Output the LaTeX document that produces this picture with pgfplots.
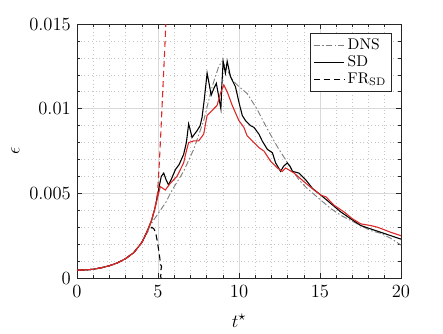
\documentclass[border=0pt]{standalone}
\usepackage{pgfplots}
\pgfplotsset{compat=1.18}
\definecolor{myred}{RGB}{220,40,40}
\definecolor{axgray}{RGB}{38,38,38}
\begin{document}
\begin{tikzpicture}
\useasboundingbox (-49.7pt,-35.5pt) rectangle (236.1pt,179.4pt);
\begin{axis}[
  scale only axis,
  width=209pt, height=163.9pt,
  xmin=0, xmax=20, ymin=0, ymax=0.015,
  xtick={0,5,10,15,20},
  ytick={0,0.005,0.01,0.015},
  yticklabels={0,0.005,0.01,0.015},
  scaled y ticks=false,
  minor x tick num=4, minor y tick num=4,
  grid=both,
  major grid style={line width=0.4pt, draw=black!15},
  minor grid style={line width=0.4pt, draw=black!22, dash pattern=on 0.6pt off 1.8pt},
  tick align=inside,
  tick pos=both,
  major tick length=3pt, minor tick length=1.8pt,
  every tick/.style={axgray, line width=0.4pt},
  axis line style={axgray, line width=0.5pt},
  tick label style={font=\fontsize{12}{14}\selectfont},
  xticklabel style={yshift=-1pt},
  yticklabel style={xshift=-0.5pt},
  xlabel={$t^{\star}$}, ylabel={$\epsilon$},
  label style={font=\fontsize{13}{15}\selectfont},
  xlabel style={yshift=-4pt},
  ylabel style={yshift=-0.5pt},
  legend style={at={(rel axis cs:0.972,0.965)}, anchor=north east,
    draw=axgray, line width=0.4pt, font=\fontsize{10}{12}\selectfont,
    inner sep=1.5pt, row sep=-1.5pt, cells={anchor=west}},
  legend cell align=left,
  legend image post style={xscale=1.15},
]
\addplot[black!50, line width=0.6pt, dash pattern=on 4pt off 1.5pt on 1pt off 1.5pt] coordinates {
(0,0.00047)(0.5,0.00048)(1,0.00052)(1.5,0.00061)(2,0.00073)(2.5,0.0009)(3,0.00115)(3.5,0.0015)(4,0.0021)(4.3,0.0026)
(4.5,0.0031)(5.0,0.0038)(5.5,0.0045)(5.76,0.0050)(6.0,0.0054)(6.58,0.0063)(7.2,0.0076)(7.82,0.0093)(8.34,0.0113)
(8.75,0.0125)(8.96,0.0128)(9.27,0.0123)(9.58,0.0117)(10.0,0.0113)(10.5,0.0109)(11.1,0.0100)(11.75,0.0088)(12.4,0.0077)
(13.2,0.0065)(13.7,0.0058)(14.2,0.0053)(15.05,0.0046)(15.67,0.0041)(16.29,0.0037)(16.9,0.0034)(17.5,0.0031)(18.14,0.0028)
(18.76,0.00264)(19.38,0.00234)(20,0.00195)};
\addlegendentry{DNS}
\addplot[black, line width=0.7pt] coordinates {
(0,0.00047)(0.5,0.00048)(1,0.00052)(1.5,0.00061)(2,0.00073)(2.5,0.0009)(3,0.00115)(3.5,0.0015)(4,0.0021)(4.3,0.0027)(4.6,0.0034)
(4.83,0.0042)(5.05,0.0053)(5.2,0.0060)(5.35,0.0062)(5.5,0.0058)(5.65,0.0055)(5.85,0.0059)(6.07,0.0064)(6.3,0.0067)(6.58,0.0073)
(6.75,0.0080)(6.89,0.0091)(7.0,0.0087)(7.1,0.0083)(7.25,0.0085)(7.41,0.0087)(7.6,0.0090)(7.72,0.0095)(7.85,0.0105)(8.03,0.0121)
(8.15,0.0115)(8.28,0.0108)(8.45,0.0112)(8.6,0.0115)(8.75,0.0107)(8.88,0.0100)(8.93,0.0112)(9.02,0.0128)(9.16,0.0121)(9.27,0.0128)
(9.47,0.0119)(9.78,0.0113)(9.99,0.0104)(10.2,0.0096)(10.4,0.0093)(10.71,0.0090)(10.92,0.0089)(11.23,0.0085)(11.43,0.0081)
(11.75,0.0076)(12.06,0.0074)(12.26,0.0068)(12.57,0.0063)(12.75,0.0066)(12.98,0.0068)(13.15,0.0066)(13.3,0.0063)(13.7,0.0062)
(14.12,0.0058)(14.53,0.0053)(15.05,0.0049)(15.67,0.0044)(16.29,0.0039)(16.9,0.0035)(17.52,0.0031)(18.14,0.0029)(18.76,0.0027)
(19.38,0.0025)(20,0.0023)};
\addlegendentry{SD}
\addplot[black, line width=0.7pt, dash pattern=on 4pt off 2.5pt] coordinates {
(0,0.00047)(0.5,0.00048)(1,0.00052)(1.5,0.00061)(2,0.00073)(2.5,0.0009)(3,0.00115)(3.5,0.0015)(4,0.0021)(4.3,0.0027)
(4.62,0.0030)(4.75,0.0029)(4.85,0.0027)(4.95,0.0022)(5.05,0.0016)(5.12,0.0011)(5.15,0.0008)(5.22,0.0007)(5.18,0.0005)
(5.2,0.0003)(5.15,0.0001)(5.2,0.0)};
\addlegendentry{FR$_{\mathrm{SD}}$}
\addplot[myred, line width=0.7pt, forget plot] coordinates {
(0,0.00047)(0.5,0.00048)(1,0.00052)(1.5,0.00061)(2,0.00073)(2.5,0.0009)(3,0.00115)(3.5,0.0015)(4,0.0021)(4.3,0.0027)(4.6,0.0034)
(4.83,0.0042)(5.14,0.0054)(5.3,0.0053)(5.45,0.0052)(5.76,0.0056)(6.17,0.0060)(6.58,0.0068)(6.75,0.0075)(6.89,0.0080)(7.2,0.0081)
(7.51,0.0081)(7.82,0.0085)(7.95,0.0092)(8.03,0.0096)(8.34,0.0099)(8.65,0.0102)(8.85,0.0109)(9.06,0.0114)(9.27,0.0110)(9.58,0.0102)
(9.99,0.0093)(10.3,0.0089)(10.5,0.0084)(10.92,0.0080)(11.23,0.0077)(11.54,0.0075)(11.95,0.0069)(12.37,0.0065)(12.67,0.0063)
(12.88,0.0065)(13.4,0.0062)(14.0,0.0057)(14.63,0.0052)(15.05,0.0049)(15.36,0.0048)(15.87,0.0043)(16.49,0.0039)(17.0,0.0035)
(17.52,0.0032)(18.14,0.0031)(18.56,0.0030)(19.38,0.0027)(20,0.0025)};
\addplot[myred, line width=0.7pt, dash pattern=on 4pt off 2.5pt, forget plot] coordinates {
(0,0.00047)(0.5,0.00048)(1,0.00052)(1.5,0.00061)(2,0.00073)(2.5,0.0009)(3,0.00115)(3.5,0.0015)(4,0.0021)(4.3,0.0027)(4.6,0.0034)
(4.8,0.0041)(4.97,0.0050)(5.08,0.0068)(5.18,0.0087)(5.3,0.0112)(5.4,0.0132)(5.5,0.0154)};
\end{axis}
\end{tikzpicture}
\end{document}
